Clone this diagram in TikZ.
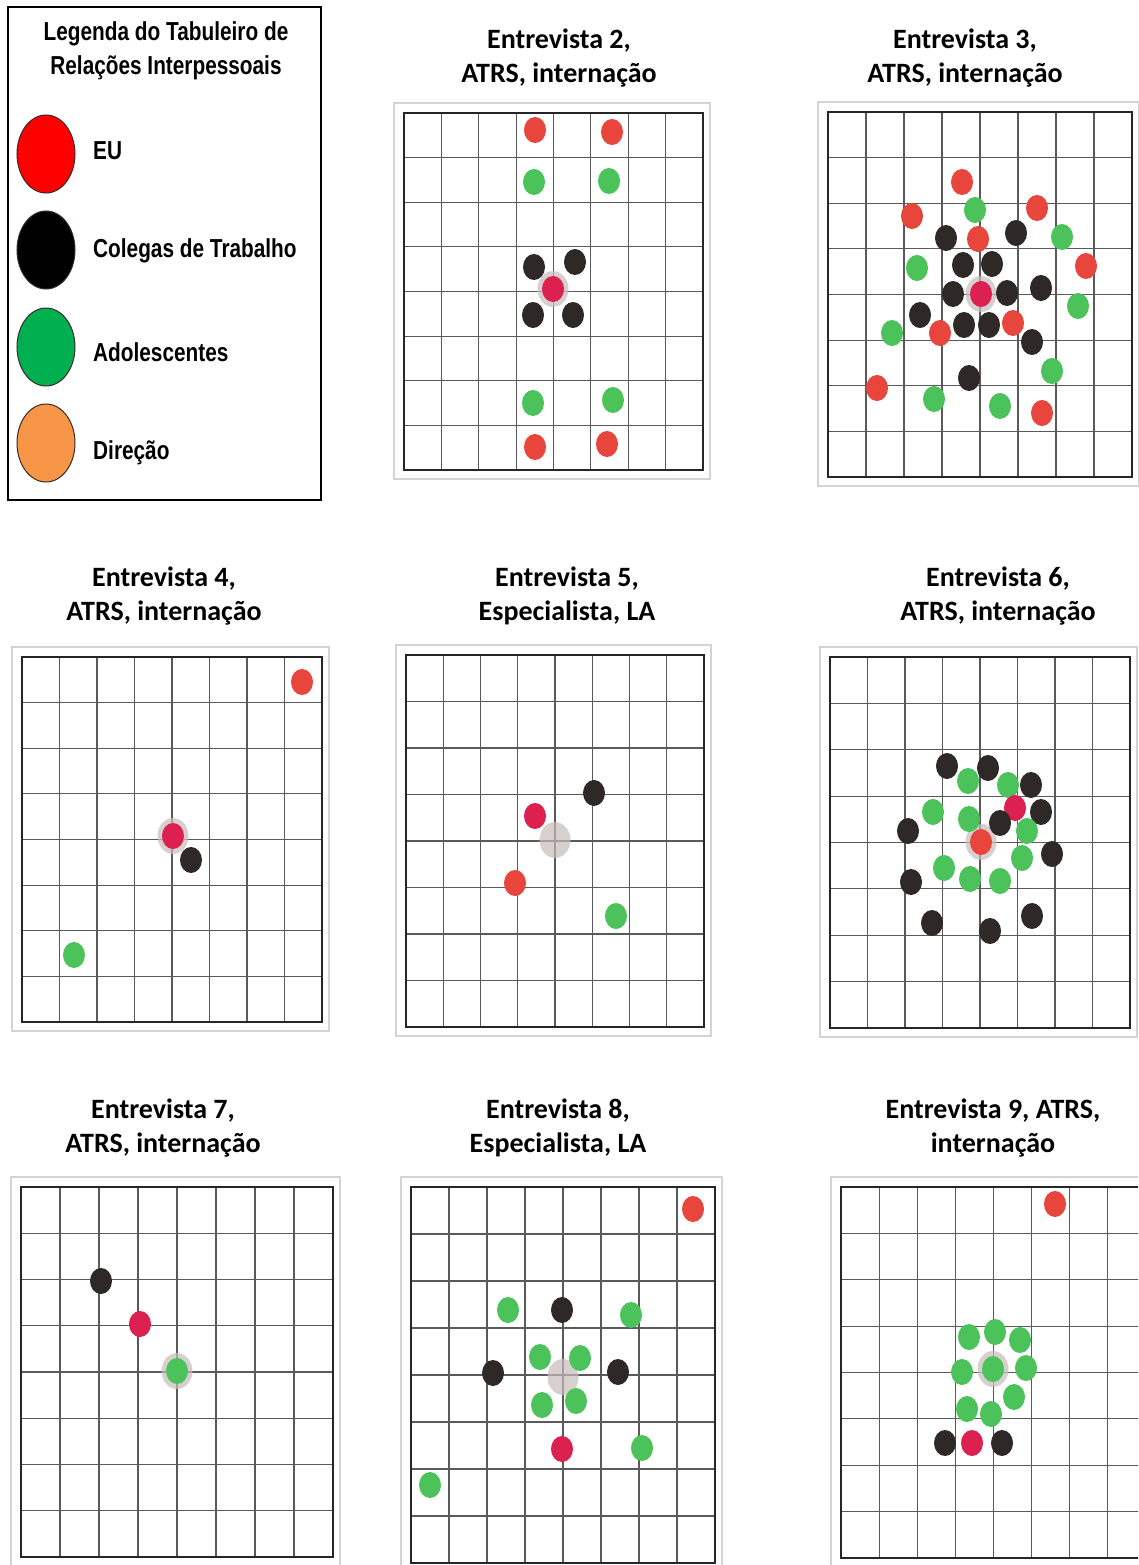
\documentclass[tikz,border=0pt]{standalone}
\usepackage{fontspec}
\setmainfont{Carlito}
\newfontfamily\legfont[FakeStretch=0.80]{Liberation Sans}
\usetikzlibrary{shapes.geometric}
\definecolor{cRed}{HTML}{E8453C}
\definecolor{cEu}{HTML}{DC2050}
\definecolor{cGreen}{HTML}{4CC25A}
\definecolor{cBlack}{HTML}{2E2826}
\definecolor{cHalo}{HTML}{C8BCBC}
\definecolor{lRed}{HTML}{FF0000}
\definecolor{lGreen}{HTML}{00B050}
\definecolor{lOrange}{HTML}{F79646}
\definecolor{lEdge}{HTML}{3A2A2A}
\definecolor{gridc}{HTML}{5A5A5A}
\definecolor{framec}{HTML}{D4D4D4}
\newcommand\gridboard[4]{%
  \draw[outerframe] ({#1-10},{#2-10}) rectangle ({#3+7},{#4+9});
  \foreach \k in {1,...,7}{%
    \draw[gridline] ({#1+(#3-#1)*\k/8},#2) -- ({#1+(#3-#1)*\k/8},#4);
    \draw[gridline] (#1,{#2+(#4-#2)*\k/8}) -- (#3,{#2+(#4-#2)*\k/8});
  }%
  \draw[boardframe] (#1,#2) rectangle (#3,#4);
}
\begin{document}
\begin{tikzpicture}[x=1pt,y=-1pt,
  dotbase/.style={ellipse,inner sep=0pt,minimum width=22pt,minimum height=26pt},
  dotred/.style={dotbase,fill=cRed},
  doteu/.style={dotbase,fill=cEu},
  dotgreen/.style={dotbase,fill=cGreen},
  dotblack/.style={dotbase,fill=cBlack},
  halo/.style={ellipse,inner sep=0pt,minimum width=31pt,minimum height=36pt,fill=cHalo,opacity=0.7},
  legdot/.style={ellipse,inner sep=0pt,minimum width=58pt,minimum height=78pt,draw=lEdge,line width=1pt},
  legtext/.style={anchor=west,inner sep=0pt,font=\legfont\bfseries\fontsize{26}{31}\selectfont},
  title/.style={align=center,inner sep=0pt,font=\bfseries\fontsize{28}{34}\selectfont},
  gridline/.style={draw=gridc,line width=1.1pt},
  boardframe/.style={draw=black!85,line width=2.2pt},
  outerframe/.style={draw=framec,line width=1.3pt},
]
\useasboundingbox[fill=white] (0,0) rectangle (1138,1565);

% ---------------- Legend ----------------
\draw[line width=1.3pt,black] (8,7) rectangle (321,500);
\node[align=center,inner sep=0pt,font=\legfont\bfseries\fontsize{26}{34}\selectfont] (legtitle) at (166,51)
  {Legenda do Tabuleiro de\\Relações Interpessoais};
\node[legdot,fill=lRed] (legeu) at (46,154) {};
\node[legdot,fill=black] (legcol) at (46,250) {};
\node[legdot,fill=lGreen] (legado) at (46,347) {};
\node[legdot,fill=lOrange] (legdir) at (46,443) {};
\node[legtext] (legeut) at (93,151) {EU};
\node[legtext] (legcolt) at (93,251) {Colegas de Trabalho};
\node[legtext] (legadot) at (93,352) {Adolescentes};
\node[legtext] (legdirt) at (93,453) {Direção};

% ---------------- Titles ----------------
\node[title] (t2) at (559,58) {Entrevista 2,\\ATRS, internação};
\node[title] (t3) at (965,58) {Entrevista 3,\\ATRS, internação};
\node[title] (t4) at (164,596) {Entrevista 4,\\ATRS, internação};
\node[title] (t5) at (567,596) {Entrevista 5,\\Especialista, LA};
\node[title] (t6) at (998,596) {Entrevista 6,\\ATRS, internação};
\node[title] (t7) at (163,1128) {Entrevista 7,\\ATRS, internação};
\node[title] (t8) at (558,1128) {Entrevista 8,\\Especialista, LA};
\node[title] (t9) at (993,1128) {Entrevista 9, ATRS,\\internação};

% ---------------- Boards ----------------
\gridboard{404}{113}{703}{470}
\gridboard{828}{112}{1132}{477}
\gridboard{22}{657}{322}{1022}
\gridboard{406}{655}{704}{1027}
\gridboard{830}{657}{1130}{1028}
\gridboard{21}{1187}{333}{1557}
\gridboard{411}{1187}{715}{1563}
\begin{scope}
  \clip (820,1170) rectangle (1138,1565);
  \gridboard{841}{1187}{1146}{1558}
\end{scope}

% Board 2
\node[halo] (b2h) at (553,289) {};
\foreach \x/\y/\s [count=\i] in {535/130/dotred,612/132/dotred,534/182/dotgreen,609/181/dotgreen,
  534/267/dotblack,575/262/dotblack,553/289/doteu,533/315/dotblack,573/315/dotblack,
  533/403/dotgreen,613/400/dotgreen,535/447/dotred,607/444/dotred}
  \node[\s] (b2d\i) at (\x,\y) {};

% Board 3
\node[halo] (b3h) at (981,294) {};
\foreach \x/\y/\s [count=\i] in {962/182/dotred,912/216/dotred,975/210/dotgreen,1037/208/dotred,
  946/238/dotblack,978/239/dotred,1016/233/dotblack,1062/237/dotgreen,1086/266/dotred,
  917/268/dotgreen,963/265/dotblack,992/264/dotblack,953/294/dotblack,981/294/doteu,
  1007/293/dotblack,1041/288/dotblack,1078/306/dotgreen,920/315/dotblack,940/333/dotred,
  964/325/dotblack,989/325/dotblack,1013/323/dotred,892/333/dotgreen,1032/342/dotblack,
  1052/371/dotgreen,969/378/dotblack,877/388/dotred,934/399/dotgreen,1000/406/dotgreen,
  1042/413/dotred}
  \node[\s] (b3d\i) at (\x,\y) {};

% Board 4
\node[halo] (b4h) at (173,836) {};
\foreach \x/\y/\s [count=\i] in {302/682/dotred,173/836/doteu,191/860/dotblack,74/955/dotgreen}
  \node[\s] (b4d\i) at (\x,\y) {};

% Board 5
\node[halo] (b5h) at (555,840) {};
\foreach \x/\y/\s [count=\i] in {594/793/dotblack,535/816/doteu,515/883/dotred,616/916/dotgreen}
  \node[\s] (b5d\i) at (\x,\y) {};

% Board 6
\node[halo] (b6h) at (981,842) {};
\foreach \x/\y/\s [count=\i] in {947/766/dotblack,988/768/dotblack,968/781/dotgreen,1008/785/dotgreen,
  1031/785/dotblack,1015/808/doteu,1041/812/dotblack,933/812/dotgreen,969/819/dotgreen,
  1000/823/dotblack,1027/831/dotgreen,908/831/dotblack,981/842/dotred,1052/854/dotblack,
  1022/858/dotgreen,944/868/dotgreen,911/882/dotblack,970/879/dotgreen,1000/881/dotgreen,
  1032/916/dotblack,932/923/dotblack,990/931/dotblack}
  \node[\s] (b6d\i) at (\x,\y) {};

% Board 7
\node[halo] (b7h) at (177,1371) {};
\foreach \x/\y/\s [count=\i] in {101/1281/dotblack,140/1324/doteu,177/1371/dotgreen}
  \node[\s] (b7d\i) at (\x,\y) {};

% Board 8
\node[halo] (b8h) at (563,1377) {};
\foreach \x/\y/\s [count=\i] in {693/1209/dotred,508/1310/dotgreen,562/1310/dotblack,631/1315/dotgreen,
  540/1357/dotgreen,580/1358/dotgreen,493/1373/dotblack,618/1372/dotblack,542/1405/dotgreen,
  576/1401/dotgreen,562/1449/doteu,642/1448/dotgreen,430/1485/dotgreen}
  \node[\s] (b8d\i) at (\x,\y) {};

% Board 9
\node[halo] (b9h) at (993,1369) {};
\foreach \x/\y/\s [count=\i] in {1055/1204/dotred,969/1337/dotgreen,995/1332/dotgreen,1020/1340/dotgreen,
  962/1372/dotgreen,993/1369/dotgreen,1026/1368/dotgreen,1014/1397/dotgreen,967/1409/dotgreen,
  991/1414/dotgreen,945/1443/dotblack,972/1443/doteu,1002/1443/dotblack}
  \node[\s] (b9d\i) at (\x,\y) {};
\end{tikzpicture}
\end{document}
